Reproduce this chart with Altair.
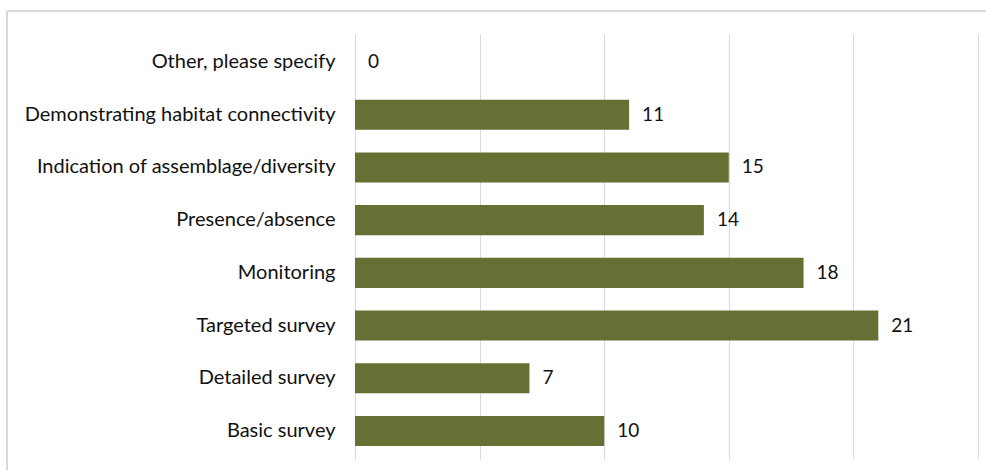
import altair as alt
import pandas as pd

categories = [
    "Other, please specify",
    "Demonstrating habitat connectivity",
    "Indication of assemblage/diversity",
    "Presence/absence",
    "Monitoring",
    "Targeted survey",
    "Detailed survey",
    "Basic survey",
]
values = [0, 11, 15, 14, 18, 21, 7, 10]

df = pd.DataFrame({"category": categories, "value": values})

FONT = "Lato"

x_enc = alt.X(
    "value:Q",
    scale=alt.Scale(domain=[0, 25], nice=False),
    axis=alt.Axis(
        values=[0, 5, 10, 15, 20, 25],
        labels=False,
        ticks=False,
        domain=False,
        title=None,
        grid=True,
        gridColor="#d9d9d9",
        gridWidth=1,
    ),
)
y_enc = alt.Y(
    "category:N",
    sort=categories,
    scale=alt.Scale(paddingInner=0.43, paddingOuter=0.246),
    axis=alt.Axis(
        title=None,
        ticks=False,
        domain=False,
        labelFont=FONT,
        labelFontSize=20,
        labelColor="#111111",
        labelPadding=20,
        labelLimit=400,
    ),
)

bars = alt.Chart(df).mark_bar(color="#667035").encode(x=x_enc, y=y_enc)

text = alt.Chart(df).mark_text(
    align="left", baseline="middle", dx=13, font=FONT, fontSize=19, color="#111111"
).encode(x="value:Q", y=alt.Y("category:N", sort=categories), text="value:Q")

border = alt.Chart(df).mark_rect(
    fill=None, stroke="#d9d9d9", strokeWidth=1
).encode(
    x=alt.value(-348), x2=alt.value(700), y=alt.value(-23), y2=alt.value(500)
)

chart = (
    alt.layer(border, bars, text)
    .properties(
        width=623,
        height=425,
        autosize=alt.AutoSizeParams(type="none"),
        padding={"left": 355, "top": 34, "right": 8, "bottom": 11},
        background="white",
    )
    .configure_view(stroke=None)
)

chart.save("out.html", embed_options={"renderer": "svg", "actions": False})
